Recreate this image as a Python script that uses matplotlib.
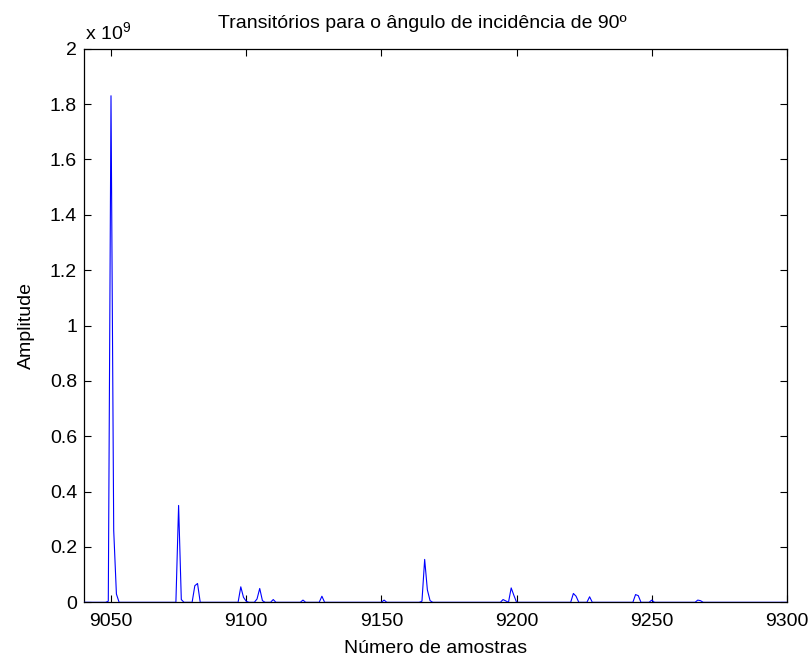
import numpy as np
import matplotlib.pyplot as plt

plt.rcParams['font.family'] = ['Liberation Sans', 'DejaVu Sans']
plt.rcParams['mathtext.fontset'] = 'custom'
plt.rcParams['mathtext.rm'] = 'Liberation Sans'
plt.rcParams['mathtext.it'] = 'Liberation Sans'

# sample range shown on the x axis
first_sample = 9040
last_sample = 9300

# samples with a visible transient and their amplitude (x 1e9); all others are ~0
peak_samples = [9049, 9050, 9051, 9052, 9075, 9076, 9081, 9082, 9098, 9099,
                9100, 9104, 9105, 9106, 9110, 9121, 9128, 9151, 9165, 9166,
                9167, 9168, 9195, 9196, 9198, 9199, 9221, 9222, 9227, 9244,
                9245, 9250, 9267, 9268]
peak_values = [0.004, 1.83, 0.26, 0.03, 0.35, 0.01, 0.06, 0.068, 0.056, 0.018,
               0.004, 0.012, 0.05, 0.006, 0.01, 0.008, 0.022, 0.008, 0.004, 0.155,
               0.045, 0.006, 0.01, 0.005, 0.052, 0.025, 0.032, 0.022, 0.02, 0.028,
               0.024, 0.008, 0.008, 0.006]

xticks = [9050, 9100, 9150, 9200, 9250, 9300]
yticks = [0, 0.2, 0.4, 0.6, 0.8, 1.0, 1.2, 1.4, 1.6, 1.8, 2.0]
ytick_labels = ['0', '0.2', '0.4', '0.6', '0.8', '1', '1.2', '1.4', '1.6', '1.8', '2']

samples = np.arange(first_sample, last_sample + 1)
amplitude = np.zeros(len(samples))
for s, v in zip(peak_samples, peak_values):
    amplitude[s - first_sample] = v * 1e9

fig = plt.figure(figsize=(8.12, 6.6), dpi=100)
ax = fig.add_axes([0.1034, 0.0874, 0.8658, 0.8388])

ax.plot(samples, amplitude, color='#0000ff', linewidth=0.8, zorder=3)

ax.set_xlim(first_sample, last_sample)
ax.set_ylim(0, 2e9)
ax.set_xticks(xticks)
ax.set_xticklabels([str(t) for t in xticks])
ax.set_yticks([t * 1e9 for t in yticks])
ax.set_yticklabels(ytick_labels)
ax.tick_params(direction='in', top=True, right=True, length=5, width=0.8,
               labelsize=14, colors='black')
ax.tick_params(axis='x', pad=8)
ax.tick_params(axis='y', pad=5)
for sp in ax.spines.values():
    sp.set_linewidth(0.9)

ax.set_xlabel('Número de amostras', fontsize=14, labelpad=7)
ax.set_ylabel('Amplitude', fontsize=14, labelpad=11)
ax.set_title('Transitórios para o ângulo de incidência de 90º', fontsize=14,
             pad=15, x=0.481)
ax.annotate(r'x 10$^{9}$', xy=(0, 1), xycoords='axes fraction',
            xytext=(1, 7), textcoords='offset points', fontsize=14,
            ha='left', va='baseline')

fig.savefig('out.png', dpi=100)
